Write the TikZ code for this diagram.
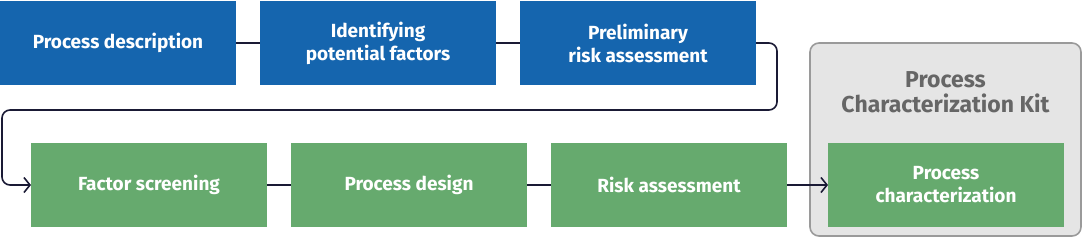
\documentclass[tikz,border=0pt]{standalone}
\usepackage{fontspec}
\setmainfont{Fira Sans}
\usepackage{xcolor}
\usetikzlibrary{arrows.meta,positioning,backgrounds}

\definecolor{peBlue}{HTML}{1565AE}
\definecolor{peGreen}{HTML}{66AA6E}
\definecolor{kitFill}{HTML}{E5E5E5}
\definecolor{kitLine}{HTML}{9A9A9A}
\definecolor{kitText}{HTML}{666666}
\definecolor{lineNavy}{HTML}{1A1A35}

\begin{document}
\begin{tikzpicture}[
    x=1pt, y=-1pt,
    >={Straight Barb[length=6pt,width=15pt]},
    stepbox/.style={fill=#1, text=white, font=\bfseries\fontsize{19}{23}\selectfont,
                    align=center, minimum width=236pt, minimum height=84pt,
                    inner sep=0pt, outer sep=0pt},
    stepbox/.default=peBlue,
    kitbox/.style={draw=kitLine, line width=1.6pt, fill=kitFill, rounded corners=9pt,
                   minimum width=271pt, minimum height=193pt, inner sep=0pt},
    kitlbl/.style={font=\bfseries\fontsize{23}{25}\selectfont, text=kitText, align=center},
    conn/.style={draw=lineNavy, line width=1.6pt},
  ]
  \useasboundingbox (0,0) rectangle (1083,238);

  % Top row
  \node[stepbox=peBlue, anchor=north west] (desc) at (0,1) {Process description};
  \node[stepbox=peBlue, right=24pt of desc] (factors) {Identifying\\potential factors};
  \node[stepbox=peBlue, right=24pt of factors] (prisk) {Preliminary\\risk assessment};

  % Bottom row
  \node[stepbox=peGreen, anchor=north west] (screen) at (31,143) {Factor screening};
  \node[stepbox=peGreen, right=24pt of screen] (design) {Process design};
  \node[stepbox=peGreen, right=24pt of design] (risk) {Risk assessment};
  \node[stepbox=peGreen, right=41pt of risk] (charact) {Process\\characterization};

  % Kit frame
  \begin{scope}[on background layer]
    \node[kitbox] (kit) at (945.5,139.5) {};
  \end{scope}
  \node[kitlbl] (kittitle) at (945.5,92) {Process\\Characterization Kit};

  \coordinate (turn) at (2,110);

  \draw[conn] (desc) -- (factors);
  \draw[conn] (factors) -- (prisk);
  \draw[conn, ->, rounded corners=8pt] (prisk.east) -- ++(21,0) |- (turn) |- (screen.west);
  \draw[conn] (screen) -- (design);
  \draw[conn] (design) -- (risk);
  \draw[conn, ->] (risk) -- (charact);
\end{tikzpicture}
\end{document}
